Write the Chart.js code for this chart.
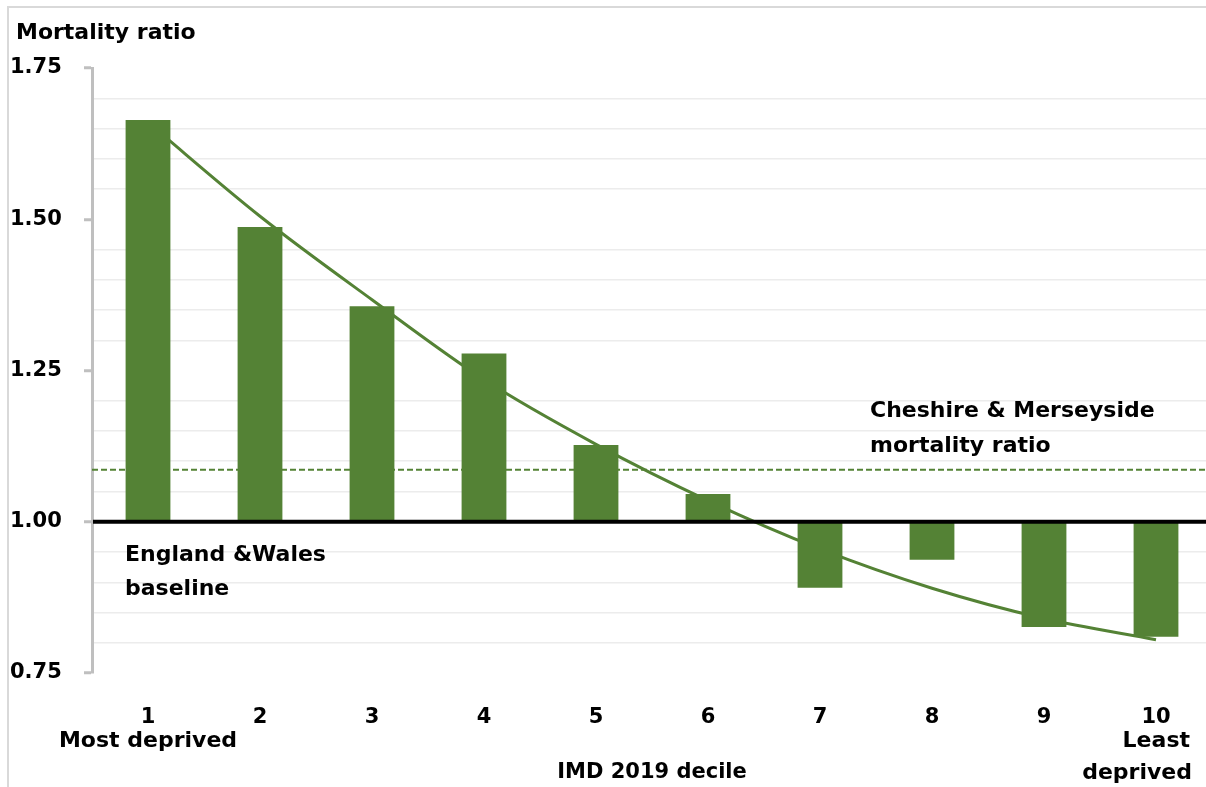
<!DOCTYPE html>
<html>
<head>
<meta charset="utf-8">
<script src="https://cdn.jsdelivr.net/npm/chart.js@4.4.1/dist/chart.umd.min.js"></script>
<style>
  html, body { margin: 0; padding: 0; background: #ffffff; overflow: hidden; }
  #wrap { position: relative; width: 1206px; height: 787px; overflow: hidden; }
  #frame { position: absolute; left: 7px; top: 6px; width: 1300px; height: 900px;
           border-left: 2px solid #d9d9d9; border-top: 2px solid #d9d9d9; }
  canvas { position: absolute; left: 0; top: 0; }
</style>
</head>
<body>
<div id="wrap">
  <div id="frame"></div>
  <canvas id="chart" width="1213" height="787"></canvas>
</div>
<script>
// IMD 2019 deciles (1 = most deprived, 10 = least deprived)
const deciles = ['1', '2', '3', '4', '5', '6', '7', '8', '9', '10'];
// Mortality ratio by decile, relative to England & Wales
const mortalityRatio = [1.664, 1.487, 1.356, 1.278, 1.127, 1.046, 0.891, 0.937, 0.826, 0.810];
// Fitted trend through the deciles
const trendRatio = [1.660, 1.505, 1.367, 1.235, 1.128, 1.035, 0.955, 0.890, 0.840, 0.805];
// Reference levels
const baselineRatio = 1.00;
const regionRatio = 1.086;
// Labelled values on the y axis
const yMajorTicks = [0.75, 1.00, 1.25, 1.50, 1.75];

const GREEN = '#548235';
const FONT = "'DejaVu Sans', sans-serif";

const isMajor = v => yMajorTicks.some(t => Math.abs(t - v) < 1e-6);

// Reference lines and free text drawn on the chart
const annotations = {
  id: 'annotations',
  beforeDatasetsDraw(chart) {
    const { ctx, chartArea, scales } = chart;
    const y = scales.y.getPixelForValue(regionRatio);
    ctx.save();
    ctx.strokeStyle = GREEN;
    ctx.lineWidth = 2;
    ctx.setLineDash([6, 3]);
    ctx.beginPath();
    ctx.moveTo(chartArea.left, y);
    ctx.lineTo(chartArea.right, y);
    ctx.stroke();
    ctx.restore();
  },
  afterDatasetsDraw(chart) {
    const { ctx, chartArea, scales } = chart;
    const y = scales.y.getPixelForValue(baselineRatio);
    ctx.save();
    ctx.strokeStyle = '#000000';
    ctx.lineWidth = 4;
    ctx.beginPath();
    ctx.moveTo(chartArea.left + 1, y);
    ctx.lineTo(chartArea.right, y);
    ctx.stroke();

    ctx.fillStyle = '#000000';
    ctx.font = 'bold 22px ' + FONT;
    ctx.textBaseline = 'middle';
    ctx.textAlign = 'left';
    ctx.fillText('Mortality ratio', 16, 33);
    ctx.fillText('Cheshire & Merseyside', 870, 411);
    ctx.fillText('mortality ratio', 870, 446);
    ctx.fillText('England &Wales', 125, 555);
    ctx.fillText('baseline', 125, 589);

    const x1 = scales.x.getPixelForValue(0);
    ctx.textAlign = 'center';
    ctx.fillText('Most deprived', x1, 741);
    ctx.textAlign = 'right';
    ctx.fillText('Least', 1190, 741);
    ctx.fillText('deprived', 1192, 773);
    ctx.restore();
  }
};

new Chart(document.getElementById('chart'), {
  type: 'bar',
  data: {
    labels: deciles,
    datasets: [
      {
        type: 'bar',
        data: mortalityRatio.map(v => [baselineRatio, v]),
        backgroundColor: GREEN,
        borderWidth: 0,
        categoryPercentage: 1,
        barPercentage: 0.4,
        order: 0
      },
      {
        type: 'line',
        data: trendRatio,
        borderColor: GREEN,
        borderWidth: 3,
        pointRadius: 0,
        cubicInterpolationMode: 'monotone',
        fill: false,
        order: 1
      }
    ]
  },
  options: {
    responsive: false,
    animation: false,
    layout: { padding: { left: 10, right: 1, top: 68, bottom: 0 } },
    plugins: { legend: { display: false }, tooltip: { enabled: false } },
    scales: {
      x: {
        afterFit(scale) { scale.height = 114; },
        grid: { display: false, drawTicks: false },
        border: { display: false },
        ticks: { color: '#000000', font: { family: FONT, weight: 'bold', size: 21 }, padding: 32, maxRotation: 0 },
        title: {
          display: true,
          text: 'IMD 2019 decile',
          color: '#000000',
          font: { family: FONT, weight: 'bold', size: 21 },
          padding: { top: 0, bottom: 2 }
        }
      },
      y: {
        min: 0.75,
        max: 1.75,
        afterFit(scale) { scale.width = 82; },
        border: { display: true, color: '#bfbfbf', width: 3 },
        grid: {
          color: c => isMajor(c.tick.value) ? 'rgba(0,0,0,0)' : '#ececec',
          lineWidth: 1.5,
          tickColor: c => isMajor(c.tick.value) ? '#bfbfbf' : 'rgba(0,0,0,0)',
          tickLength: 8,
          tickWidth: 3
        },
        ticks: {
          stepSize: 0.05,
          autoSkip: false,
          crossAlign: 'far',
          color: '#000000',
          font: { family: FONT, weight: 'bold', size: 21 },
          callback: v => isMajor(v) ? v.toFixed(2) : ''
        }
      }
    }
  },
  plugins: [annotations]
});
</script>
</body>
</html>
